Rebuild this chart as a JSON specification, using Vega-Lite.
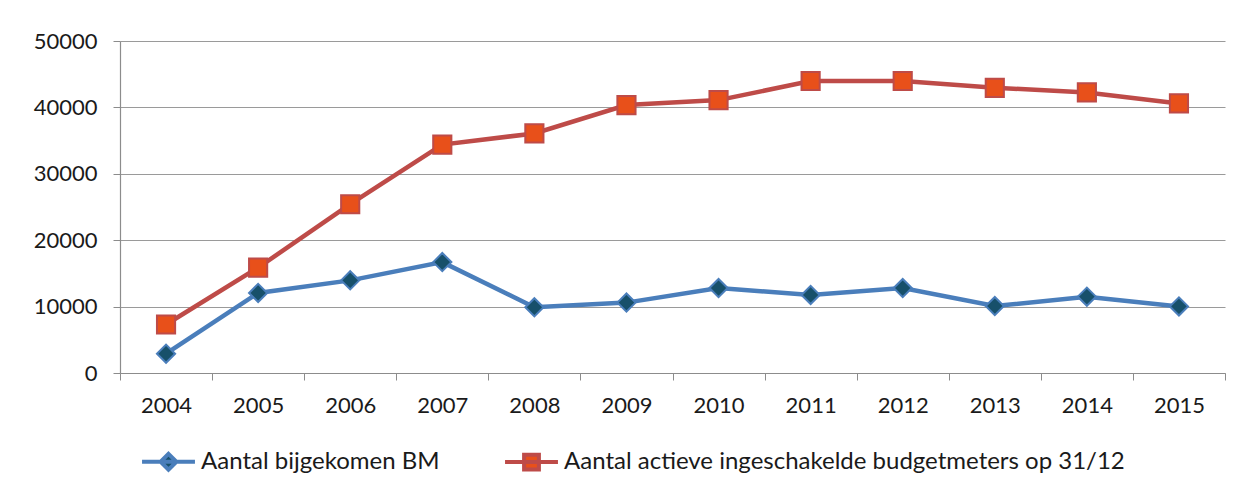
{
  "$schema": "https://vega.github.io/schema/vega-lite/v6.json",
  "autosize": {"type": "none"},
  "width": 1105,
  "height": 332,
  "padding": {"left": 120, "top": 41, "right": 16, "bottom": 119},
  "background": "white",
  "config": {
    "view": {"stroke": null},
    "font": "Lato",
    "axis": {"labelFont": "Lato", "labelColor": "#1a1a1a", "domainColor": "#8c8c8c", "tickColor": "#8c8c8c", "gridColor": "#9a9a9a"},
    "legend": {"labelFont": "Lato", "labelColor": "#1a1a1a", "labelFontSize": 24, "labelLimit": 1000, "symbolSize": 2800, "symbolStrokeWidth": 4, "columnPadding": 57, "labelOffset": 4, "orient": "none", "direction": "horizontal", "legendX": 20, "legendY": 392, "title": null}
  },
  "data": {
    "values": [
      {"jaar": "2004", "reeks": "Aantal bijgekomen BM", "waarde": 2900},
      {"jaar": "2005", "reeks": "Aantal bijgekomen BM", "waarde": 12050},
      {"jaar": "2006", "reeks": "Aantal bijgekomen BM", "waarde": 13950},
      {"jaar": "2007", "reeks": "Aantal bijgekomen BM", "waarde": 16700},
      {"jaar": "2008", "reeks": "Aantal bijgekomen BM", "waarde": 9900},
      {"jaar": "2009", "reeks": "Aantal bijgekomen BM", "waarde": 10600},
      {"jaar": "2010", "reeks": "Aantal bijgekomen BM", "waarde": 12800},
      {"jaar": "2011", "reeks": "Aantal bijgekomen BM", "waarde": 11750},
      {"jaar": "2012", "reeks": "Aantal bijgekomen BM", "waarde": 12800},
      {"jaar": "2013", "reeks": "Aantal bijgekomen BM", "waarde": 10080},
      {"jaar": "2014", "reeks": "Aantal bijgekomen BM", "waarde": 11500},
      {"jaar": "2015", "reeks": "Aantal bijgekomen BM", "waarde": 10030},
      {"jaar": "2004", "reeks": "Aantal actieve ingeschakelde budgetmeters op 31/12", "waarde": 7300},
      {"jaar": "2005", "reeks": "Aantal actieve ingeschakelde budgetmeters op 31/12", "waarde": 15870},
      {"jaar": "2006", "reeks": "Aantal actieve ingeschakelde budgetmeters op 31/12", "waarde": 25420},
      {"jaar": "2007", "reeks": "Aantal actieve ingeschakelde budgetmeters op 31/12", "waarde": 34400},
      {"jaar": "2008", "reeks": "Aantal actieve ingeschakelde budgetmeters op 31/12", "waarde": 36080},
      {"jaar": "2009", "reeks": "Aantal actieve ingeschakelde budgetmeters op 31/12", "waarde": 40350},
      {"jaar": "2010", "reeks": "Aantal actieve ingeschakelde budgetmeters op 31/12", "waarde": 41100},
      {"jaar": "2011", "reeks": "Aantal actieve ingeschakelde budgetmeters op 31/12", "waarde": 43970},
      {"jaar": "2012", "reeks": "Aantal actieve ingeschakelde budgetmeters op 31/12", "waarde": 43970},
      {"jaar": "2013", "reeks": "Aantal actieve ingeschakelde budgetmeters op 31/12", "waarde": 42950},
      {"jaar": "2014", "reeks": "Aantal actieve ingeschakelde budgetmeters op 31/12", "waarde": 42260},
      {"jaar": "2015", "reeks": "Aantal actieve ingeschakelde budgetmeters op 31/12", "waarde": 40600}
    ]
  },
  "encoding": {
    "x": {
      "field": "jaar", "type": "ordinal",
      "scale": {"type": "band", "paddingInner": 0, "paddingOuter": 0},
      "axis": {"title": null, "labelAngle": 0, "labelFontSize": 22, "tickBand": "extent", "tickSize": 7, "labelPadding": 15, "grid": false, "domainWidth": 1.2}
    },
    "y": {
      "field": "waarde", "type": "quantitative",
      "scale": {"domain": [0, 50000], "nice": false},
      "axis": {"title": null, "values": [0, 10000, 20000, 30000, 40000, 50000], "format": "d", "labelFontSize": 22, "tickSize": 7, "labelPadding": 16, "grid": true, "gridWidth": 1.2, "domainWidth": 1.2}
    }
  },
  "layer": [
    {
      "mark": {"type": "line", "strokeWidth": 4.5},
      "encoding": {
        "stroke": {
          "field": "reeks", "type": "nominal",
          "scale": {"domain": ["Aantal bijgekomen BM", "Aantal actieve ingeschakelde budgetmeters op 31/12"], "range": ["#4a7ebb", "#be4b48"]},
          "legend": null
        }
      }
    },
    {
      "mark": {"type": "point", "filled": true, "opacity": 1, "size": 330, "strokeWidth": 2},
      "encoding": {
        "shape": {
          "field": "reeks", "type": "nominal",
          "scale": {"domain": ["Aantal bijgekomen BM", "Aantal actieve ingeschakelde budgetmeters op 31/12"], "range": ["diamond", "square"]},
          "legend": null
        },
        "fill": {
          "field": "reeks", "type": "nominal",
          "scale": {"domain": ["Aantal bijgekomen BM", "Aantal actieve ingeschakelde budgetmeters op 31/12"], "range": ["#17506a", "#e8501a"]},
          "legend": null
        },
        "stroke": {
          "field": "reeks", "type": "nominal",
          "scale": {"domain": ["Aantal bijgekomen BM", "Aantal actieve ingeschakelde budgetmeters op 31/12"], "range": ["#4a7ebb", "#be4b48"]},
          "legend": null
        }
      }
    },
    {
      "mark": {"type": "point", "filled": true, "opacity": 1, "size": 0, "strokeWidth": 4},
      "encoding": {
        "shape": {
          "field": "reeks", "type": "nominal",
          "scale": {"domain": ["Aantal bijgekomen BM", "Aantal actieve ingeschakelde budgetmeters op 31/12"], "range": ["M-1,0H1M0,-0.3L0.3,0L0,0.3L-0.3,0Z", "M-1,0H1M-0.28,-0.28H0.28V0.28H-0.28Z"]}
        },
        "fill": {
          "field": "reeks", "type": "nominal",
          "scale": {"domain": ["Aantal bijgekomen BM", "Aantal actieve ingeschakelde budgetmeters op 31/12"], "range": ["#17506a", "#e8501a"]}
        },
        "stroke": {
          "field": "reeks", "type": "nominal",
          "scale": {"domain": ["Aantal bijgekomen BM", "Aantal actieve ingeschakelde budgetmeters op 31/12"], "range": ["#4a7ebb", "#be4b48"]}
        }
      }
    }
  ],
  "resolve": {"scale": {"shape": "independent", "fill": "independent", "stroke": "independent"}}
}
